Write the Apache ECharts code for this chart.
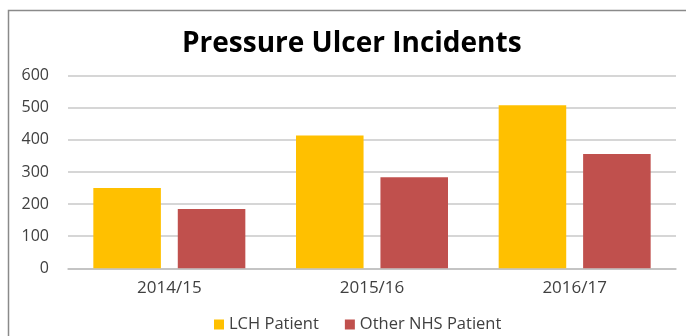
<!DOCTYPE html>
<html>
<head>
<meta charset="utf-8">
<script src="https://cdn.jsdelivr.net/npm/echarts@6/dist/echarts.min.js"></script>
<style>
  html, body { margin: 0; padding: 0; background: #fff; }
  #chart { width: 686px; height: 336px; }
</style>
</head>
<body>
<div id="chart"></div>
<script>
// Pressure ulcer incidents by financial year
const years = ['2014/15', '2015/16', '2016/17'];
const lchPatient = [250, 414, 508];
const otherNhsPatient = [185, 284, 356];
const yTicks = { min: 0, max: 600, interval: 100 };

const chart = echarts.init(document.getElementById('chart'), null, { renderer: 'canvas' });
const fontFamily = '"Open Sans", "Liberation Sans", sans-serif';

chart.setOption({
  animation: false,
  backgroundColor: '#ffffff',
  graphic: [
    {
      type: 'polyline',
      shape: { points: [[8.5, 340], [8.5, 10.5], [690, 10.5]] },
      style: { stroke: '#8a8a8a', lineWidth: 1.5, fill: null },
      silent: true
    }
  ],
  title: {
    text: 'Pressure Ulcer Incidents',
    left: 177,
    top: 25,
    textStyle: { fontFamily, fontWeight: 'bold', fontSize: 28, color: '#000' }
  },
  legend: {
    top: 311,
    left: 209,
    itemWidth: 10,
    itemHeight: 10,
    itemGap: 26,
    icon: 'rect',
    textStyle: { fontFamily, fontSize: 16.5, color: '#404040' },
    data: ['LCH Patient', 'Other NHS Patient']
  },
  grid: { left: 68, right: 10, top: 75.7, bottom: 67.7, containLabel: false },
  xAxis: {
    type: 'category',
    data: years,
    axisTick: { show: false },
    axisLine: { lineStyle: { color: '#bfbfbf', width: 1.5 } },
    axisLabel: { fontFamily, fontSize: 17, color: '#404040', margin: 11 }
  },
  yAxis: {
    type: 'value',
    min: yTicks.min,
    max: yTicks.max,
    interval: yTicks.interval,
    axisLine: { show: false },
    axisTick: { show: false },
    splitLine: { lineStyle: { color: '#c8c8c8', width: 1.5 } },
    axisLabel: { fontFamily, fontSize: 16, color: '#404040', margin: 19 }
  },
  series: [
    {
      name: 'LCH Patient',
      type: 'bar',
      data: lchPatient,
      itemStyle: { color: '#ffc000' },
      barGap: '25%',
      barCategoryGap: '25%'
    },
    {
      name: 'Other NHS Patient',
      type: 'bar',
      data: otherNhsPatient,
      itemStyle: { color: '#c0504d' }
    }
  ]
});
</script>
</body>
</html>
